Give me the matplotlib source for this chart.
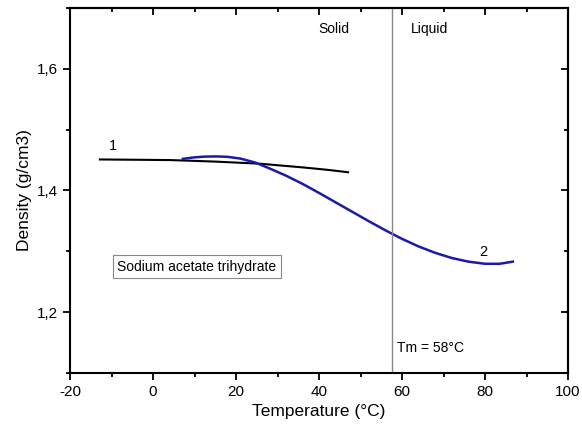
import numpy as np
import matplotlib.pyplot as plt
from matplotlib.ticker import MultipleLocator, FuncFormatter

plt.rcParams['font.family'] = ['Liberation Sans', 'DejaVu Sans']
plt.rcParams['axes.unicode_minus'] = False

# curva 1: fase solida (negra)
t_solido = [-12.8, -4.0, 4.1, 15.0, 25.8, 36.0, 42.0, 47.0]
rho_solido = [1.451, 1.4505, 1.450, 1.4475, 1.444, 1.438, 1.434, 1.430]

# curva 2: ajuste completo (azul)
t_liquido = [7.2, 10.0, 12.5, 15.4, 18.0, 21.0, 24.6, 28.0, 32.0, 36.0, 40.0, 44.0, 48.0,
             52.0, 56.0, 60.0, 64.0, 68.0, 72.0, 76.0, 80.0, 83.5, 86.7]
rho_liquido = [1.452, 1.4545, 1.4557, 1.456, 1.4553, 1.4525, 1.446, 1.4365, 1.4245, 1.411,
               1.396, 1.3805, 1.365, 1.3495, 1.3345, 1.3205, 1.308, 1.2975, 1.289, 1.283,
               1.2795, 1.2795, 1.283]

tm = 57.6

fig = plt.figure(figsize=(5.82, 4.36), dpi=100)
ax = fig.add_axes([0.1203, 0.1445, 0.8557, 0.8372])

ax.plot(t_solido, rho_solido, color='black', lw=1.5)
ax.plot(t_liquido, rho_liquido, color='#1a1aa8', lw=1.8)
ax.axvline(tm, color='#888888', lw=1.0)

ax.text(-9.6, 1.462, '1', fontsize=10.5, ha='center', va='bottom')
ax.text(79.5, 1.287, '2', fontsize=10.5, ha='center', va='bottom')
ax.text(43.5, 1.666, 'Solid', fontsize=10, ha='center', va='center')
ax.text(66.5, 1.666, 'Liquid', fontsize=10, ha='center', va='center')
ax.text(58.8, 1.141, 'Tm = 58°C', fontsize=10, ha='left', va='center')
ax.text(10.6, 1.275, 'Sodium acetate trihydrate', fontsize=10, ha='center', va='center',
        bbox=dict(boxstyle='square,pad=0.3', fc='white', ec='#888888', lw=0.8))

ax.set_xlim(-20, 100)
ax.set_ylim(1.1, 1.7)
ax.xaxis.set_major_locator(MultipleLocator(20))
ax.xaxis.set_minor_locator(MultipleLocator(10))
ax.yaxis.set_major_locator(MultipleLocator(0.2))
ax.yaxis.set_minor_locator(MultipleLocator(0.1))
ax.yaxis.set_major_formatter(FuncFormatter(lambda v, p: f'{v:.1f}'.replace('.', ',')))

ax.tick_params(which='both', direction='out', width=1.3, labelsize=11, top=False, right=False)
ax.tick_params(which='major', length=5)
ax.tick_params(which='minor', length=3)

# ticks espejo arriba y a la derecha, hacia adentro
axt = ax.secondary_xaxis('top')
axt.xaxis.set_major_locator(MultipleLocator(20))
axt.xaxis.set_minor_locator(MultipleLocator(10))
axt.tick_params(which='both', direction='in', width=1.3, labeltop=False)
axt.tick_params(which='major', length=5)
axt.tick_params(which='minor', length=3)
axr = ax.secondary_yaxis('right')
axr.yaxis.set_major_locator(MultipleLocator(0.2))
axr.yaxis.set_minor_locator(MultipleLocator(0.1))
axr.tick_params(which='both', direction='in', width=1.3, labelright=False)
axr.tick_params(which='major', length=5)
axr.tick_params(which='minor', length=3)

for s in ax.spines.values():
    s.set_linewidth(1.5)
axt.spines['top'].set_linewidth(1.5)
axr.spines['right'].set_linewidth(1.5)

ax.set_xlabel('Temperature (°C)', fontsize=12.5)
ax.set_ylabel('Density (g/cm3)', fontsize=12.5)

fig.savefig('out.png', dpi=100)
